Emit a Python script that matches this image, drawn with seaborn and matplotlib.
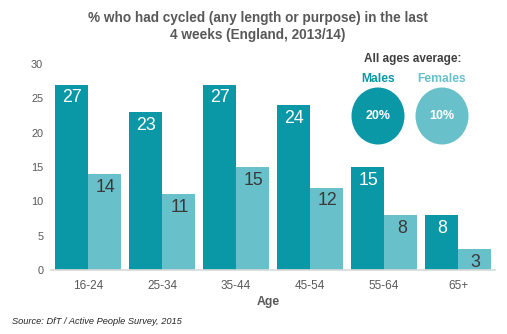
import matplotlib
matplotlib.use("Agg")
import matplotlib.pyplot as plt
from matplotlib.patches import Ellipse
import seaborn as sns
import pandas as pd

# Share of people who cycled in the last 4 weeks, by age group and sex
age_groups = ["16-24", "25-34", "35-44", "45-54", "55-64", "65+"]
males = [27, 23, 27, 24, 15, 8]
females = [14, 11, 15, 12, 8, 3]
avg_males = 20
avg_females = 10

male_col = "#0A97A6"
female_col = "#67C0CA"
text_grey = "#595959"

df = pd.DataFrame({
    "Age": age_groups * 2,
    "Percent": males + females,
    "Sex": ["Males"] * len(age_groups) + ["Females"] * len(age_groups),
})

sns.set_theme(style="white")
plt.rcParams["font.family"] = ["Liberation Sans", "DejaVu Sans"]

fig = plt.figure(figsize=(5.07, 3.34), dpi=100)
ax = fig.add_axes([51 / 507, 64 / 334, 444 / 507, 206 / 334])

sns.barplot(data=df, x="Age", y="Percent", hue="Sex",
            palette={"Males": male_col, "Females": female_col},
            width=0.9, gap=0, saturation=1, legend=False, linewidth=0,
            ax=ax)

for container, colour in zip(ax.containers, ["white", "#3A3A3A"]):
    for bar in container:
        h = bar.get_height()
        ax.annotate(f"{h:.0f}", (bar.get_x() + bar.get_width() / 2, h),
                    xytext=(0.8, -9.5), textcoords="offset points",
                    ha="center", va="center", fontsize=12.8, color=colour)

ax.set_xlim(-0.5, len(age_groups) - 0.5)
ax.set_ylim(0, 30)
ax.set_yticks([0, 5, 10, 15, 20, 25, 30])
ax.tick_params(axis="y", labelsize=7.9, labelcolor=text_grey, length=0, pad=5.5)
ax.tick_params(axis="x", labelsize=8.5, labelcolor=text_grey, length=0, pad=7)
ax.set_ylabel("")
ax.set_xlabel("Age", fontsize=8.8, fontweight="bold", color=text_grey)
ax.xaxis.set_label_coords(0.49, -0.125)
for side in ["left", "right", "top"]:
    ax.spines[side].set_visible(False)
ax.spines["bottom"].set_color("#D9D9D9")
ax.spines["bottom"].set_linewidth(1.2)

fig.text(258 / 507, 1 - 26.5 / 334,
         "% who had cycled (any length or purpose) in the last\n4 weeks (England, 2013/14)",
         ha="center", va="center", fontsize=9.8, fontweight="bold",
         color=text_grey, linespacing=1.2)

fig.text(12 / 507, 1 - 322 / 334, "Source: DfT / Active People Survey, 2015",
         ha="left", va="center", fontsize=6.7, style="italic", color="#262626")

# All-ages averages shown as bubbles in the top-right corner
fig.text(413 / 507, 1 - 59 / 334, "All ages average:", ha="center", va="center",
         fontsize=8.5, fontweight="bold", color="#404040")
for cx, cy, label, val, col in [(378, 116, "Males", avg_males, male_col),
                                 (442, 116, "Females", avg_females, female_col)]:
    fig.patches.append(Ellipse((cx / 507, 1 - cy / 334), 53 / 507, 57 / 334,
                               transform=fig.transFigure, facecolor=col,
                               edgecolor="none", zorder=5))
    fig.text(cx / 507, 1 - cy / 334, f"{val}%", ha="center", va="center",
             fontsize=9, fontweight="bold", color="white", zorder=6)
    fig.text(cx / 507, 1 - (cy - 37) / 334, label, ha="center", va="center",
             fontsize=8.7, fontweight="bold", color=col, zorder=6)

fig.savefig("out.png", dpi=100)
